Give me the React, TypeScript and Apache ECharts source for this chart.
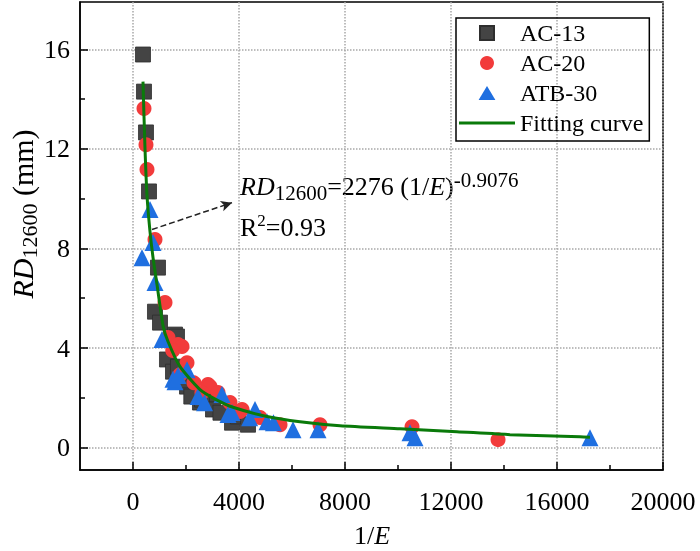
import React, { useEffect, useRef } from 'react';
import * as echarts from 'echarts';

const seriesNames = ['AC-13', 'AC-20', 'ATB-30', 'Fitting curve'];

const ac13: number[][] = [
  [377, 15.79], [415, 14.3], [490, 12.66], [604, 10.29], [943, 7.23], [830, 5.46],
  [1019, 5.02], [1585, 4.54], [1660, 4.46], [1283, 3.54], [1510, 3.05], [1698, 3.25],
  [2038, 2.45], [2528, 1.81], [2981, 2.13], [2604, 1.93], [3019, 1.53], [3736, 1.0],
  [3962, 1.25], [4340, 0.92], [2200, 2.05], [1900, 2.7], [3300, 1.4],
];

const ac20: number[][] = [
  [415, 13.62], [490, 12.17], [528, 11.17], [830, 8.36], [1208, 5.83], [1321, 4.42],
  [1698, 4.14], [1849, 4.06], [2038, 3.41], [1774, 2.93], [2830, 2.53], [2906, 2.45],
  [3208, 2.21], [3660, 1.81], [4114, 1.53], [4038, 1.45], [4793, 1.21], [5548, 0.92],
  [7057, 0.92], [10529, 0.84], [13775, 0.32], [2300, 2.6], [1500, 3.9], [2600, 2.2],
];

const atb30: number[][] = [
  [642, 9.56], [755, 8.24], [340, 7.63], [830, 6.63], [1094, 4.34], [2038, 3.13],
  [1585, 2.65], [1510, 2.75], [2453, 2.05], [3359, 2.13], [3736, 1.41], [3585, 1.33],
  [4604, 1.53], [5057, 1.04], [6038, 0.72], [6981, 0.72], [10453, 0.6], [10642, 0.4],
  [17245, 0.4], [1700, 2.9], [2700, 1.8], [4400, 1.2], [5300, 1.0],
];

const fitCurve: number[][] = [
  [377, 14.7], [450, 12.1], [530, 10.1], [640, 8.7], [760, 7.6], [906, 6.55],
  [1132, 4.9], [1321, 4.26], [1774, 3.25], [2528, 2.33], [3100, 1.95], [3774, 1.62],
  [5057, 1.25], [6302, 1.04], [7812, 0.88], [10076, 0.76], [12227, 0.64], [14227, 0.52],
  [16868, 0.44], [17245, 0.42],
];

const xMajor = [0, 4000, 8000, 12000, 16000, 20000];
const xMinor = [2000, 6000, 10000, 14000, 18000];
const yMajor = [0, 4, 8, 12, 16];
const yMinor = [2, 6, 10, 14];
const arrowFrom = [717, 8.76];
const arrowTo = [3736, 9.84];

const FONT = 'Liberation Serif';

export default function App() {
  const ref = useRef<HTMLDivElement>(null);
  useEffect(() => {
    const chart = echarts.init(ref.current!, null, { renderer: 'svg' });
    const black = '#000';
    const axisLineStyle = { color: black, width: 1.5 };
    const grid = '#a8a8a8';
    const labelStyle = { fontSize: 26, fontFamily: FONT, color: black };
    const mkRich = (main: number, small: number, lh: number) => ({
      i: { fontStyle: 'italic', fontSize: main, fontFamily: FONT, lineHeight: lh, fill: black, color: black },
      s: { fontSize: small, fontFamily: FONT, lineHeight: lh, verticalAlign: 'bottom', fill: black, color: black },
      p: { fontSize: small, fontFamily: FONT, lineHeight: lh, verticalAlign: 'top', fill: black, color: black },
    });
    chart.setOption({
      animation: false,
      grid: {
        left: 80, right: 37, top: 2, bottom: 81, show: true,
        borderColor: black, borderWidth: 1.5, containLabel: false, outerBoundsMode: 'none',
      },
      legend: {
        data: [
          { name: seriesNames[0], icon: 'path://M0,0L10,0L10,10L0,10Z' },
          { name: seriesNames[1], icon: 'circle' },
          { name: seriesNames[2], icon: 'path://M6,0L12,10L0,10Z' },
          { name: seriesNames[3], icon: 'path://M0,0L56,0L56,3L0,3Z' },
        ],
        orient: 'vertical',
        left: 456,
        top: 18,
        padding: [3, 6, 6, 3],
        itemGap: 6,
        itemWidth: 56,
        itemHeight: 14,
        symbolKeepAspect: true,
        borderColor: black,
        borderWidth: 1.5,
        textStyle: { fontSize: 24, fontFamily: FONT, color: black },
      },
      xAxis: [
        {
          type: 'value', min: -2000, max: 20000, position: 'bottom',
          axisLine: { onZero: false, lineStyle: axisLineStyle },
          axisTick: { inside: true, length: 8, customValues: xMajor, lineStyle: axisLineStyle },
          axisLabel: { customValues: xMajor, margin: 18, formatter: (v: number) => String(v), ...labelStyle },
          splitLine: { show: true, lineStyle: { color: grid, type: 'dotted', width: 1.5 } },
        },
        {
          type: 'value', min: -2000, max: 20000, position: 'bottom',
          axisLine: { show: false, onZero: false },
          axisTick: { inside: true, length: 5, customValues: xMinor, lineStyle: axisLineStyle },
          axisLabel: { show: false },
          splitLine: { show: false },
        },
      ],
      yAxis: [
        {
          type: 'value', min: -0.9, max: 17.9, position: 'left',
          axisLine: { onZero: false, lineStyle: axisLineStyle },
          axisTick: { inside: true, length: 8, customValues: yMajor, lineStyle: axisLineStyle },
          axisLabel: { customValues: yMajor, margin: 10, formatter: (v: number) => String(v), ...labelStyle },
          splitLine: { show: true, lineStyle: { color: grid, type: 'dotted', width: 1.5 } },
        },
        {
          type: 'value', min: -0.9, max: 17.9, position: 'left',
          axisLine: { show: false, onZero: false },
          axisTick: { inside: true, length: 5, customValues: yMinor, lineStyle: axisLineStyle },
          axisLabel: { show: false },
          splitLine: { show: false },
        },
      ],
      series: [
        {
          name: seriesNames[0], type: 'scatter', data: ac13, symbol: 'rect', symbolSize: 15,
          itemStyle: { color: '#444444', borderColor: '#2e2e2e', borderWidth: 0.8, opacity: 1 },
        },
        {
          name: seriesNames[1], type: 'scatter', data: ac20, symbol: 'circle', symbolSize: 15,
          itemStyle: { color: '#f23b3b', opacity: 1 },
        },
        {
          name: seriesNames[2], type: 'scatter', data: atb30, symbol: 'triangle', symbolSize: 17,
          itemStyle: { color: '#1f6fe0', opacity: 1 },
        },
        {
          name: seriesNames[3], type: 'line', data: fitCurve, showSymbol: false, symbol: 'none',
          smooth: 0.2, lineStyle: { color: '#0a7a0a', width: 3 }, itemStyle: { color: '#0a7a0a' },
          z: 5,
          markLine: {
            silent: true,
            symbol: ['none', 'arrow'],
            symbolSize: [8, 11],
            label: { show: false },
            lineStyle: { color: '#222', type: 'dashed', width: 1.5 },
            data: [[{ coord: arrowFrom }, { coord: arrowTo }]],
          },
        },
      ],
      graphic: [
        {
          type: 'text', x: 22, y: 214, rotation: Math.PI / 2,
          style: {
            text: '{i|RD}{s|12600} (mm)', fontSize: 30, fontFamily: FONT, fill: black,
            align: 'center', verticalAlign: 'middle', lineHeight: 36, rich: mkRich(30, 22, 36),
          },
        },
        {
          type: 'text', x: 372, y: 535,
          style: {
            text: '1/{i|E}', fontSize: 26, fontFamily: FONT, fill: black,
            align: 'center', verticalAlign: 'middle', lineHeight: 26, rich: mkRich(26, 20, 26),
          },
        },
        {
          type: 'text', x: 240, y: 186,
          style: {
            text: '{i|RD}{s|12600}=2276 (1/{i|E}){p|-0.9076}', fontSize: 26, fontFamily: FONT, fill: black,
            align: 'left', verticalAlign: 'middle', lineHeight: 34, rich: mkRich(26, 21, 34),
          },
        },
        {
          type: 'text', x: 240, y: 227,
          style: {
            text: 'R{p|2}=0.93', fontSize: 26, fontFamily: FONT, fill: black,
            align: 'left', verticalAlign: 'middle', lineHeight: 30, rich: mkRich(26, 17, 30),
          },
        },
      ],
    });
    return () => chart.dispose();
  }, []);
  return <div ref={ref} style={{ position: 'fixed', left: 0, top: 0, width: 700, height: 551 }} />;
}
